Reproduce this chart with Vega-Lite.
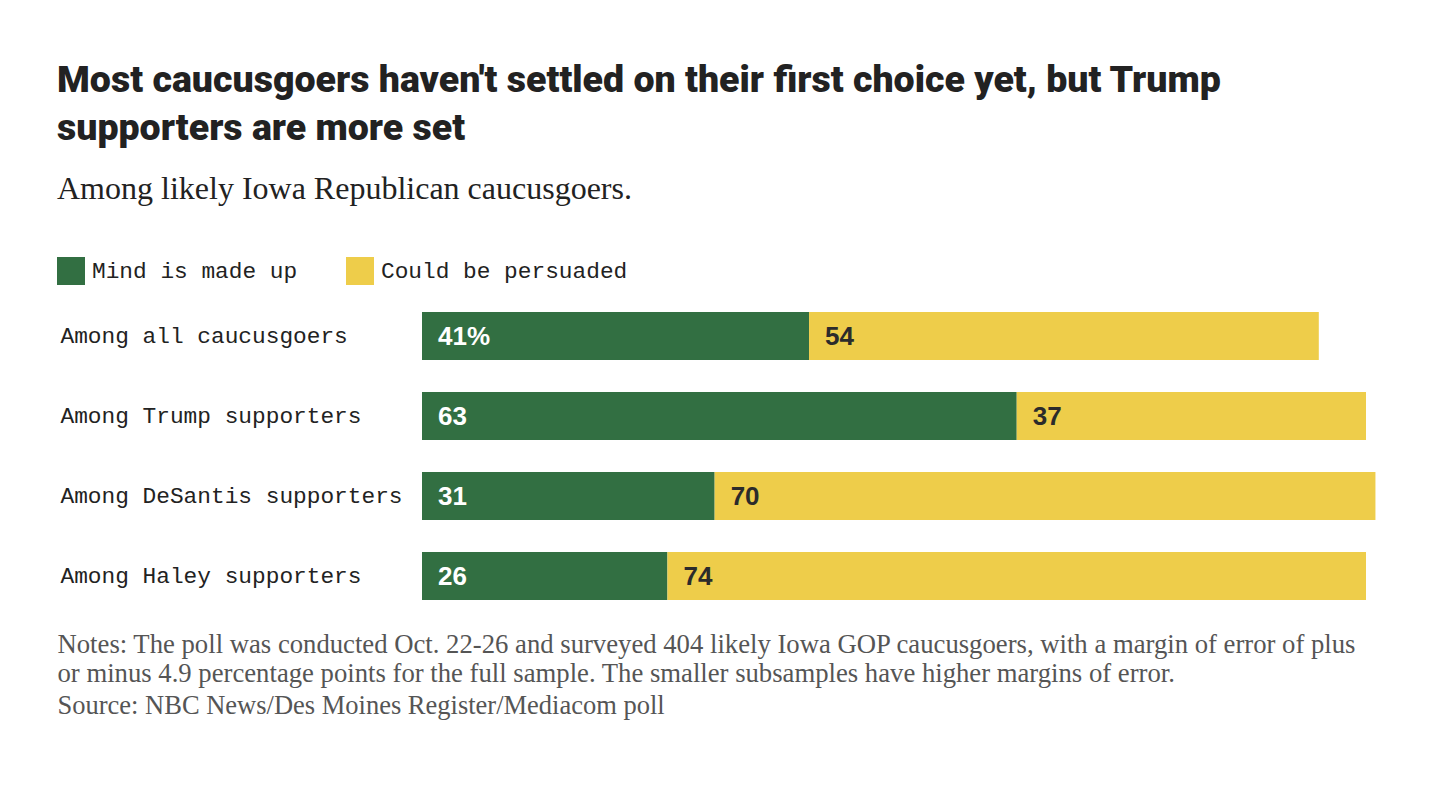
{
  "$schema": "https://vega.github.io/schema/vega-lite/v6.json",
  "autosize": {"type": "none"},
  "width": 944,
  "height": 320,
  "padding": {"left": 422, "top": 296, "right": 68, "bottom": 178},
  "background": "white",
  "title": {
    "text": ["Most caucusgoers haven't settled on their first choice yet, but Trump", "supporters are more set"],
    "subtitle": "Among likely Iowa Republican caucusgoers.",
    "anchor": "start",
    "frame": "group",
    "orient": "top",
    "dx": -365,
    "offset": 52,
    "font": "Roboto",
    "fontSize": 37.5,
    "fontWeight": 900,
    "color": "#222222",
    "lineHeight": 48,
    "subtitleFont": "Liberation Serif",
    "subtitleFontSize": 32,
    "subtitleColor": "#222222",
    "subtitlePadding": 27
  },
  "data": {
    "values": [
      {"group": "Among all caucusgoers", "status": "Mind is made up", "value": 41, "label": "41%"},
      {"group": "Among all caucusgoers", "status": "Could be persuaded", "value": 54, "label": "54"},
      {"group": "Among Trump supporters", "status": "Mind is made up", "value": 63, "label": "63"},
      {"group": "Among Trump supporters", "status": "Could be persuaded", "value": 37, "label": "37"},
      {"group": "Among DeSantis supporters", "status": "Mind is made up", "value": 31, "label": "31"},
      {"group": "Among DeSantis supporters", "status": "Could be persuaded", "value": 70, "label": "70"},
      {"group": "Among Haley supporters", "status": "Mind is made up", "value": 26, "label": "26"},
      {"group": "Among Haley supporters", "status": "Could be persuaded", "value": 74, "label": "74"}
    ]
  },
  "transform": [
    {"stack": "value", "groupby": ["group"], "sort": [{"field": "status", "order": "descending"}], "as": ["x0", "x1"]}
  ],
  "encoding": {
    "y": {
      "field": "group",
      "type": "nominal",
      "sort": ["Among all caucusgoers", "Among Trump supporters", "Among DeSantis supporters", "Among Haley supporters"],
      "scale": {"paddingInner": 0.4, "paddingOuter": 0.2},
      "axis": {
        "title": "Source: NBC News/Des Moines Register/Mediacom poll",
        "titleAngle": 0,
        "titleX": -365,
        "titleY": 417,
        "titleAlign": "left",
        "titleBaseline": "alphabetic",
        "titleFont": "Liberation Serif",
        "titleFontSize": 26.5,
        "titleFontWeight": "normal",
        "titleColor": "#555555",
        "labelAlign": "left",
        "labelPadding": 362,
        "labelFont": "Liberation Mono",
        "labelFontSize": 22.8,
        "labelColor": "#222222",
        "labelLimit": 0,
        "ticks": false,
        "tickSize": 0,
        "domain": false,
        "grid": false
      }
    },
    "x": {
      "field": "x0",
      "type": "quantitative",
      "scale": {"domain": [0, 100], "nice": false, "zero": true},
      "axis": {
        "title": ["Notes: The poll was conducted Oct. 22-26 and surveyed 404 likely Iowa GOP caucusgoers, with a margin of error of plus", "or minus 4.9 percentage points for the full sample. The smaller subsamples have higher margins of error."],
        "labels": false,
        "ticks": false,
        "domain": false,
        "grid": false,
        "titleFont": "Liberation Serif",
        "titleFontSize": 26.7,
        "titleFontWeight": "normal",
        "titleColor": "#555555",
        "titleAnchor": "start",
        "titleAlign": "left",
        "titleX": -365,
        "titleY": 36,
        "titleBaseline": "alphabetic",
        "titleLineHeight": 29
      }
    }
  },
  "layer": [
    {
      "mark": {"type": "bar"},
      "encoding": {
        "x2": {"field": "x1"},
        "color": {
          "field": "status",
          "type": "nominal",
          "scale": {"domain": ["Mind is made up", "Could be persuaded"], "range": ["#326f42", "#eecd4a"]},
          "legend": {
            "orient": "none",
            "legendX": -365,
            "legendY": -39,
            "direction": "horizontal",
            "title": null,
            "symbolType": "square",
            "symbolSize": 784,
            "symbolStrokeWidth": 0,
            "symbolOpacity": 1,
            "labelFont": "Liberation Mono",
            "labelFontSize": 22.8,
            "labelColor": "#222222",
            "labelOffset": 7,
            "labelLimit": 0,
            "columnPadding": 48
          }
        }
      }
    },
    {
      "mark": {"type": "text", "align": "left", "baseline": "middle", "dx": 16, "dy": 1, "font": "Liberation Sans", "fontSize": 26, "fontWeight": "bold"},
      "encoding": {
        "text": {"field": "label"},
        "color": {"condition": {"test": "datum.status === 'Mind is made up'", "value": "#ffffff"}, "value": "#2b2b2b"}
      }
    }
  ],
  "config": {"view": {"stroke": null}}
}
